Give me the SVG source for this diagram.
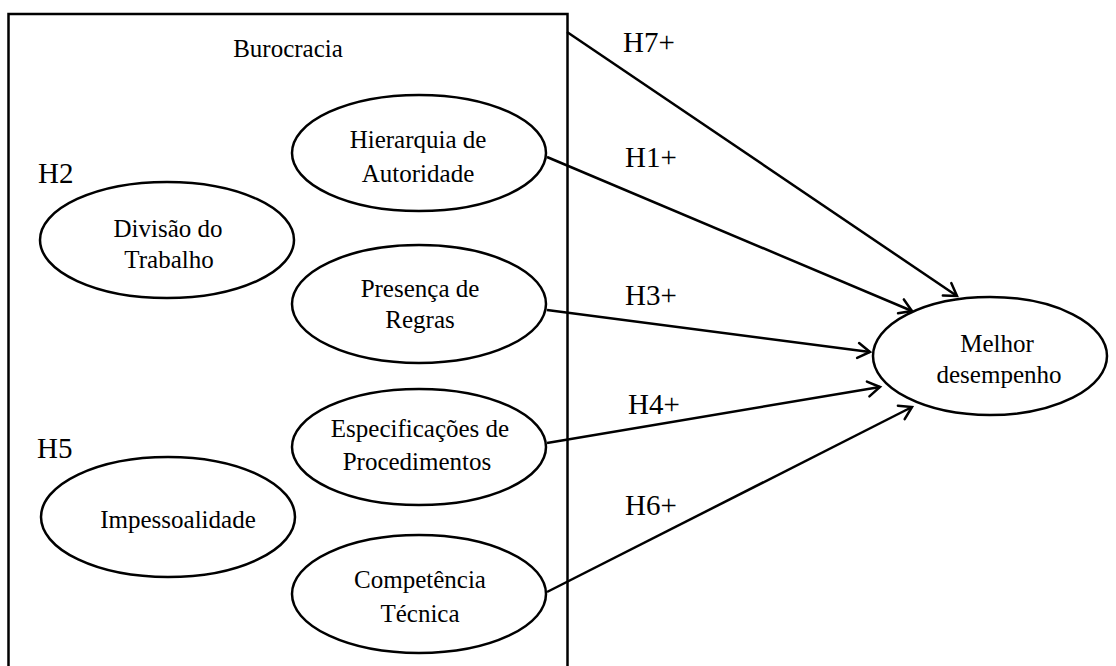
<svg xmlns="http://www.w3.org/2000/svg" width="1116" height="666" viewBox="0 0 1116 666">
<style>
  .node { fill: #ffffff; stroke: #000000; stroke-width: 2.5; }
  .t { font-family: "Liberation Serif", "Times New Roman", serif; font-size: 25px; fill: #000000; text-anchor: middle; }
  .h { font-family: "Liberation Serif", "Times New Roman", serif; font-size: 29px; fill: #000000; }
  .conn { fill: none; stroke: #000000; stroke-width: 2.5; marker-end: url(#arrow); }
</style>
<defs>
  <marker id="arrow" markerUnits="userSpaceOnUse" markerWidth="16" markerHeight="18" refX="13" refY="8" orient="auto" overflow="visible">
    <path d="M1,0.5 L13,8 L1,15.5" fill="none" stroke="#000000" stroke-width="2.5" stroke-linecap="round" stroke-linejoin="miter"/>
  </marker>
</defs>
<rect width="1116" height="666" fill="#ffffff"/>

<g id="burocracia">
  <rect x="8.5" y="14" width="559" height="700" fill="none" stroke="#000000" stroke-width="2.5"/>
  <text class="t" x="288" y="57">Burocracia</text>
</g>

<g id="connectors">
  <line class="conn" x1="567" y1="32" x2="957" y2="296"/>
  <line class="conn" x1="547" y1="157" x2="912" y2="311"/>
  <line class="conn" x1="547" y1="310" x2="870" y2="352"/>
  <line class="conn" x1="547" y1="443" x2="880" y2="387"/>
  <line class="conn" x1="547" y1="592" x2="912" y2="407"/>
</g>

<g id="labels">
  <text class="h" x="623" y="52">H7+</text>
  <text class="h" x="625" y="167">H1+</text>
  <text class="h" x="625" y="305">H3+</text>
  <text class="h" x="628" y="414">H4+</text>
  <text class="h" x="625" y="515">H6+</text>
  <text class="h" x="38" y="183">H2</text>
  <text class="h" x="37" y="458">H5</text>
</g>

<g id="divisao">
  <ellipse class="node" cx="167" cy="240" rx="127" ry="58"/>
  <text class="t" x="168" y="237">Divisão do</text>
  <text class="t" x="169" y="268">Trabalho</text>
</g>

<g id="impessoalidade">
  <ellipse class="node" cx="168" cy="517" rx="127" ry="60"/>
  <text class="t" x="178" y="528">Impessoalidade</text>
</g>

<g id="hierarquia">
  <ellipse class="node" cx="419" cy="153" rx="127" ry="58"/>
  <text class="t" x="418" y="148">Hierarquia de</text>
  <text class="t" x="418" y="182">Autoridade</text>
</g>

<g id="presenca">
  <ellipse class="node" cx="419" cy="304" rx="127" ry="59"/>
  <text class="t" x="420" y="297">Presença de</text>
  <text class="t" x="420" y="328">Regras</text>
</g>

<g id="especificacoes">
  <ellipse class="node" cx="419" cy="447" rx="127" ry="58"/>
  <text class="t" x="420" y="437">Especificações de</text>
  <text class="t" x="417" y="470">Procedimentos</text>
</g>

<g id="competencia">
  <ellipse class="node" cx="419" cy="594" rx="127" ry="59"/>
  <text class="t" x="420" y="588">Competência</text>
  <text class="t" x="420" y="622">Técnica</text>
</g>

<g id="melhor">
  <ellipse class="node" cx="990" cy="356" rx="117" ry="59"/>
  <text class="t" x="997" y="352">Melhor</text>
  <text class="t" x="999" y="383">desempenho</text>
</g>
</svg>
